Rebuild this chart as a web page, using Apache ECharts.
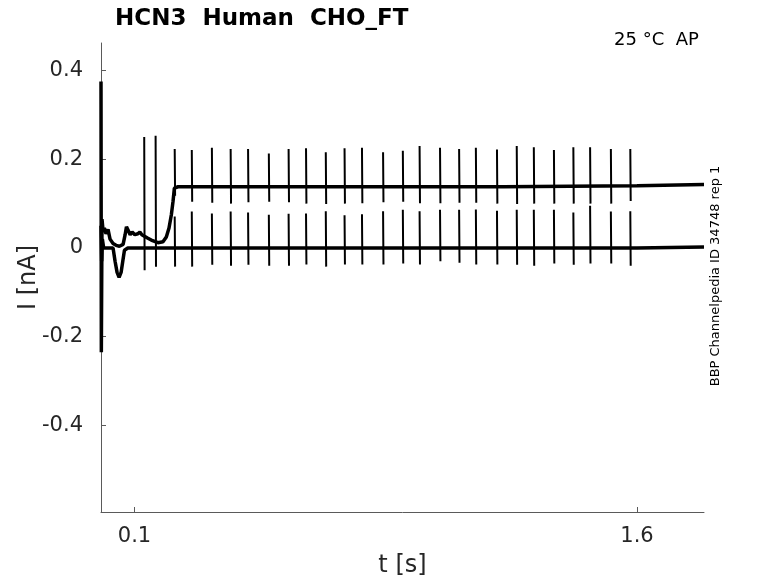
<!DOCTYPE html>
<html>
<head>
<meta charset="utf-8">
<script src="https://cdn.jsdelivr.net/npm/echarts@6/dist/echarts.min.js"></script>
<style>
  html, body {margin: 0; padding: 0; background: #fff;}
  #chart {width: 778px; height: 583px;}
</style>
</head>
<body>
<div id="chart"></div>
<script>
// spike times [s]
const spike_times = [0.129, 0.163, 0.220, 0.271, 0.331, 0.387, 0.439, 0.501, 0.560, 0.612,
  0.671, 0.727, 0.779, 0.842, 0.901, 0.951, 1.012, 1.069, 1.119, 1.182,
  1.241, 1.292, 1.352, 1.410, 1.460, 1.522, 1.580];

// upper trace: spike tops and the dip right after
const upper_peaks = [0.250, 0.253, 0.223, 0.221, 0.226, 0.223, 0.223, 0.213, 0.223, 0.225,
  0.216, 0.225, 0.226, 0.216, 0.219, 0.230, 0.226, 0.223, 0.226, 0.222,
  0.230, 0.227, 0.221, 0.227, 0.227, 0.223, 0.223];
const upper_dips = [-0.050, -0.042, 0.118, 0.104, 0.102, 0.100, 0.103, 0.104, 0.103, 0.100,
  0.099, 0.100, 0.101, 0.103, 0.104, 0.101, 0.101, 0.102, 0.102, 0.100,
  0.099, 0.100, 0.100, 0.100, 0.100, 0.100, 0.106];

// lower trace: spikes start with the 3rd spike time
const lower_peaks = [0.071, 0.082, 0.078, 0.082, 0.080, 0.075, 0.077, 0.078, 0.083, 0.074,
  0.076, 0.083, 0.086, 0.083, 0.086, 0.086, 0.087, 0.084, 0.086, 0.086,
  0.086, 0.080, 0.095, 0.082, 0.083];
const lower_dips = [-0.042, -0.042, -0.038, -0.040, -0.038, -0.040, -0.040, -0.037, -0.042, -0.037,
  -0.037, -0.037, -0.035, -0.037, -0.030, -0.033, -0.037, -0.037, -0.038, -0.040,
  -0.035, -0.038, -0.035, -0.035, -0.040];

// baselines [t, I]
const upper_base = [[0, 0.375], [0.001, -0.235], [0.003, 0.065], [0.006, 0.040], [0.010, 0.045],
  [0.015, 0.032], [0.021, 0.042], [0.027, 0.020], [0.030, 0.018], [0.036, 0.010], [0.045, 0.006],
  [0.055, 0.004], [0.066, 0.008], [0.072, 0.030], [0.076, 0.048], [0.081, 0.040], [0.087, 0.030],
  [0.093, 0.036], [0.101, 0.030], [0.110, 0.032], [0.116, 0.036], [0.122, 0.030], [0.140, 0.022],
  [0.150, 0.018], [0.170, 0.012], [0.185, 0.014], [0.195, 0.025], [0.203, 0.045], [0.210, 0.075],
  [0.215, 0.105], [0.219, 0.135], [0.230, 0.138], [0.700, 0.138], [1.200, 0.138], [1.600, 0.140],
  [1.800, 0.143]];
const lower_base = [[0, 0.050], [0.002, -0.030], [0.004, 0.020], [0.008, 0.000], [0.036, 0.000],
  [0.042, -0.030], [0.048, -0.055], [0.054, -0.066], [0.060, -0.055], [0.065, -0.030],
  [0.070, -0.005], [0.080, 0.000], [1.600, 0.000], [1.800, 0.002]];

const y_ticks = [-0.4, -0.2, 0, 0.2, 0.4];
const x_ticks = [0.1, 1.6];


function spikeLines(times, peaks, dips){
  const out = [];
  peaks.forEach((p, i) => {
    out.push([times[i], p], [times[i] + 0.0012, dips[i]], [times[i] + 0.0012, '-']);
  });
  return out;
}

function lineSeries(data, width){
  return {
    type: 'line', data, showSymbol: false, symbol: 'none', animation: false,
    lineStyle: {color: '#000', width}, connectNulls: false, silent: true
  };
}

const axis_text = {color: '#262626', fontSize: 21, fontFamily: 'DejaVu Sans'};
const axis_line = {show: true, onZero: false, lineStyle: {color: '#5a5a5a', width: 1}};

const chart = echarts.init(document.getElementById('chart'), null, {renderer: 'canvas'});
chart.setOption({
  animation: false,
  title: {
    text: 'HCN3  Human  CHO_FT', left: 110, top: 3,
    textStyle: {fontFamily: 'DejaVu Sans', fontWeight: 'bold', fontSize: 23, color: '#000'}
  },
  grid: {left: 101, right: 74, top: 43, bottom: 71, outerBoundsMode: 'none'},
  xAxis: {
    type: 'value', min: 0, max: 1.8,
    name: 't [s]', nameLocation: 'middle', nameGap: 42, nameMoveOverlap: false,
    nameTextStyle: {color: '#262626', fontSize: 24, fontFamily: 'DejaVu Sans'},
    axisLine: axis_line,
    axisTick: {show: true, inside: true, length: 5, customValues: x_ticks, lineStyle: {color: '#5a5a5a'}},
    axisLabel: Object.assign({customValues: x_ticks, margin: 14, formatter: (v) => String(v)}, axis_text),
    splitLine: {show: false}
  },
  yAxis: {
    type: 'value', min: -0.595, max: 0.462,
    name: 'I [nA]', nameLocation: 'middle', nameGap: 60, nameRotate: 90, nameMoveOverlap: false,
    nameTextStyle: {color: '#262626', fontSize: 24, fontFamily: 'DejaVu Sans'},
    axisLine: axis_line,
    axisTick: {show: true, inside: true, length: 5, customValues: y_ticks, lineStyle: {color: '#5a5a5a'}},
    axisLabel: Object.assign({customValues: y_ticks, margin: 18, formatter: (v) => String(v)}, axis_text),
    splitLine: {show: false}
  },
  graphic: [
    {type: 'text', left: 614, top: 31,
      style: {text: '25 °C  AP', fontSize: 18, fontFamily: 'DejaVu Sans', fill: '#000'}},
    {type: 'text', x: 716, y: 276, rotation: Math.PI / 2,
      style: {text: 'BBP Channelpedia ID 34748 rep 1', fontSize: 13, fontFamily: 'DejaVu Sans',
        fill: '#000', align: 'center', verticalAlign: 'middle'}}
  ],
  series: [
    lineSeries(upper_base, 3.5),
    lineSeries(lower_base, 3.5),
    lineSeries(spikeLines(spike_times, upper_peaks, upper_dips), 2),
    lineSeries(spikeLines(spike_times.slice(2), lower_peaks, lower_dips), 2)
  ]
});
</script>
</body>
</html>
